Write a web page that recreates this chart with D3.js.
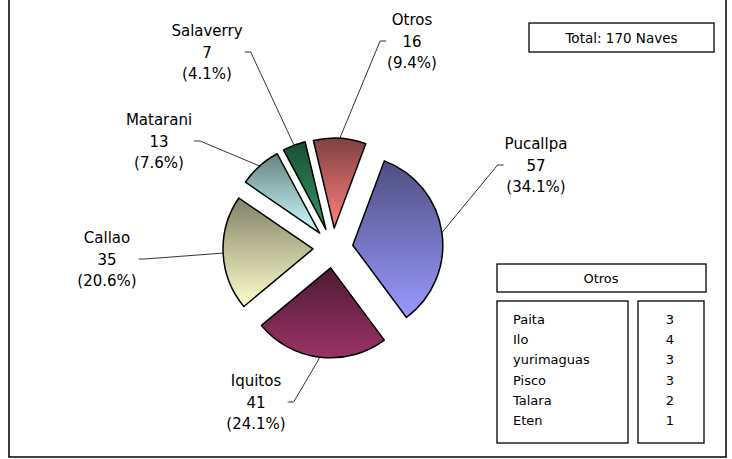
<!DOCTYPE html>
<html>
<head>
<meta charset="utf-8">
<script src="https://cdn.jsdelivr.net/npm/d3@7"></script>
<style>
  body { margin: 0; background: #fff; }
  text { font-family: "DejaVu Sans", sans-serif; fill: #000; }
</style>
</head>
<body>
<svg id="chart" width="732" height="459"></svg>
<script>
// puertos (en orden de las porciones, sentido horario)
var ports = ["Pucallpa", "Iquitos", "Callao", "Matarani", "Salaverry", "Otros"];
var counts = [57, 41, 35, 13, 7, 16];
var percents = [34.1, 24.1, 20.6, 7.6, 4.1, 9.4];
var colors = ["#9999ff", "#993366", "#ffffcc", "#ccffff", "#339966", "#ff8080"];

// tabla "Otros"
var otherPorts = ["Paita", "Ilo", "yurimaguas", "Pisco", "Talara", "Eten"];
var otherCounts = [3, 4, 3, 3, 2, 1];
var totalText = "Total: 170 Naves";

// label placement (center x, first baseline y) - layout only
var labelPos = [[536, 149], [256, 386], [107, 243], [159, 125], [207, 36], [412, 25]];

var width = 732, height = 459;
var cx = 333, cy = 248, radius = 90, explode = 20;
var lineH = 21.5;

var svg = d3.select("#chart");

// outer frame
svg.append("rect")
    .attr("x", 9)
    .attr("y", -3)
    .attr("width", 717)
    .attr("height", 460)
    .attr("fill", "none")
    .attr("stroke", "#000")
    .attr("stroke-width", 1.5);

var defs = svg.append("defs");
colors.forEach(function(c, i) {
  var g = defs.append("linearGradient")
      .attr("id", "grad" + i)
      .attr("x1", 0).attr("y1", 0)
      .attr("x2", 0).attr("y2", 1);
  g.append("stop").attr("offset", "0%").attr("stop-color", d3.color(c).darker(1.9));
  g.append("stop").attr("offset", "100%").attr("stop-color", c);
});

var data = ports.map(function(p, i) {
  return { port: p, count: counts[i], pct: percents[i], i: i };
});

var startA = 20.5 * Math.PI / 180;
var pie = d3.pie()
    .sort(null)
    .startAngle(startA)
    .endAngle(startA + 2 * Math.PI)
    .value(function(d) { return d.pct; });

var arc = d3.arc()
    .innerRadius(0)
    .outerRadius(radius);

var arcs = pie(data);

function offset(d) {
  var a = (d.startAngle + d.endAngle) / 2;
  return [Math.sin(a) * explode, -Math.cos(a) * explode];
}

var chart = svg.append("g")
    .attr("transform", "translate(" + cx + "," + cy + ")");

chart.selectAll(".slice")
  .data(arcs)
  .enter()
  .append("path")
    .classed("slice", true)
    .attr("transform", function(d) {
      var o = offset(d);
      return "translate(" + o[0] + "," + o[1] + ")";
    })
    .attr("d", arc)
    .attr("fill", function(d) { return "url(#grad" + d.data.i + ")"; })
    .attr("stroke", "#000")
    .attr("stroke-width", 1.5)
    .attr("stroke-linejoin", "round");

// labels
var labels = svg.selectAll(".label")
  .data(arcs)
  .enter()
  .append("text")
    .classed("label", true)
    .attr("text-anchor", "middle")
    .attr("font-size", "15px");

labels.each(function(d, i) {
  var t = d3.select(this);
  var pos = labelPos[i];
  var lines = [d.data.port, d.data.count, "(" + d.data.pct.toFixed(1) + "%)"];
  lines.forEach(function(l, k) {
    t.append("tspan")
      .attr("x", pos[0])
      .attr("y", pos[1] + k * lineH)
      .text(l);
  });
});

// leader lines
labels.each(function(d, i) {
  var bb = this.getBBox();
  var o = offset(d);
  var a = (d.startAngle + d.endAngle) / 2;
  var px = cx + o[0] + Math.sin(a) * radius;
  var py = cy + o[1] - Math.cos(a) * radius;
  var ly = labelPos[i][1] + lineH - 5.5;
  var tx, ex;
  if (px > bb.x + bb.width) {
    tx = bb.x + bb.width + 2;
    ex = tx + 6;
  } else {
    tx = bb.x - 1;
    ex = tx - 6;
  }
  svg.append("polyline")
      .attr("points", [[tx, ly], [ex, ly], [px, py]].map(function(p) { return p.join(","); }).join(" "))
      .attr("fill", "none")
      .attr("stroke", "#000")
      .attr("stroke-width", 0.8);
});

// total box
svg.append("rect")
    .attr("x", 529).attr("y", 23)
    .attr("width", 185).attr("height", 29)
    .attr("fill", "#fff")
    .attr("stroke", "#000")
    .attr("stroke-width", 1.3);

svg.append("text")
    .attr("x", 621.5)
    .attr("y", 42.5)
    .attr("text-anchor", "middle")
    .attr("font-size", "13.5px")
    .text(totalText);

// "Otros" table
svg.append("rect")
    .attr("x", 497).attr("y", 264)
    .attr("width", 209).attr("height", 28)
    .attr("fill", "#fff")
    .attr("stroke", "#000")
    .attr("stroke-width", 1.3);

svg.append("text")
    .attr("x", 601)
    .attr("y", 283)
    .attr("text-anchor", "middle")
    .attr("font-size", "13px")
    .text("Otros");

svg.append("rect")
    .attr("x", 497).attr("y", 301)
    .attr("width", 131).attr("height", 142)
    .attr("fill", "#fff")
    .attr("stroke", "#000")
    .attr("stroke-width", 1.3);

svg.append("rect")
    .attr("x", 638).attr("y", 301)
    .attr("width", 66).attr("height", 142)
    .attr("fill", "#fff")
    .attr("stroke", "#000")
    .attr("stroke-width", 1.3);

var rowY = d3.scalePoint()
    .domain(otherPorts)
    .range([324, 425]);

svg.selectAll(".oname")
  .data(otherPorts)
  .enter()
  .append("text")
    .classed("oname", true)
    .attr("x", 513)
    .attr("y", function(d) { return rowY(d); })
    .attr("font-size", "13px")
    .text(function(d) { return d; });

svg.selectAll(".ovalue")
  .data(otherCounts)
  .enter()
  .append("text")
    .classed("ovalue", true)
    .attr("x", 670)
    .attr("y", function(d, i) { return rowY(otherPorts[i]); })
    .attr("text-anchor", "middle")
    .attr("font-size", "13px")
    .attr("fill", "#333")
    .text(function(d) { return d; });
</script>
</body>
</html>
